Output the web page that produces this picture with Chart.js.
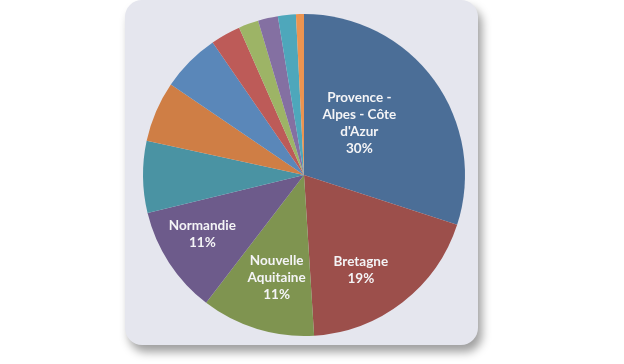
<!DOCTYPE html>
<html>
<head>
<meta charset="utf-8">
<script src="https://cdn.jsdelivr.net/npm/chart.js@4"></script>
<style>
  html, body { margin: 0; padding: 0; background: #fff; }
  #wrap { position: relative; width: 624px; height: 364px; overflow: hidden; }
  #panel {
    position: absolute; left: 125px; top: 0px; width: 353px; height: 345px;
    background: #e5e6ee; border-radius: 17px;
    box-shadow: 4px 7px 10px rgba(0, 0, 0, 0.38);
  }
  #chart { position: absolute; left: 0; top: 0; }
</style>
</head>
<body>
<div id="wrap">
  <div id="panel"></div>
  <canvas id="chart" width="624" height="364"></canvas>
</div>
<script>
// regions, share of total (%)
const regions = [
  ['Provence -', 'Alpes - Côte', "d'Azur"],
  'Bretagne',
  ['Nouvelle', 'Aquitaine'],
  'Normandie',
  'Occitanie',
  'Pays de la Loire',
  'Auvergne-Rhône-Alpes',
  'Hauts-de-France',
  'Grand Est',
  'Corse',
  'Centre-Val de Loire',
  'Bourgogne-Franche-Comté'
];
const shares = [30, 19, 11.4, 10.8, 7.2, 6.1, 5.9, 3.0, 2.0, 2.0, 1.8, 0.8];
const percentLabels = ['30%', '19%', '11%', '11%'];

const sliceColors = [
  '#4b6e97', '#9c4f4b', '#7f9450', '#6d5b8b', '#4a93a3', '#cf7e45',
  '#5a87b9', '#bd5b58', '#9db466', '#8470a2', '#4ea7bb', '#ec9450'
];

// where each labelled slice puts its text: fraction of radius, angle shift (deg)
const labelSpots = [
  { r: 0.47, shift: -7 },
  { r: 0.69, shift: 7 },
  { r: 0.66, shift: -2 },
  { r: 0.73, shift: 3 }
];

const sliceLabels = {
  id: 'sliceLabels',
  afterDatasetsDraw(chart) {
    const ctx = chart.ctx;
    const arcs = chart.getDatasetMeta(0).data;
    ctx.save();
    ctx.font = 'bold 13.5px Lato, "Open Sans", sans-serif';
    ctx.fillStyle = '#f4f4f6';
    ctx.textAlign = 'center';
    ctx.textBaseline = 'middle';
    percentLabels.forEach((pct, i) => {
      const a = arcs[i];
      const spot = labelSpots[i];
      const mid = (a.startAngle + a.endAngle) / 2 + spot.shift * Math.PI / 180;
      const rr = a.outerRadius * spot.r;
      const cx = a.x + Math.cos(mid) * rr;
      const cy = a.y + Math.sin(mid) * rr;
      const name = regions[i];
      const lines = (Array.isArray(name) ? name : [name]).concat(pct);
      const lh = 17;
      const top = cy - (lines.length - 1) * lh / 2;
      lines.forEach((t, k) => ctx.fillText(t, cx, top + k * lh));
    });
    ctx.restore();
  }
};

new Chart(document.getElementById('chart'), {
  type: 'pie',
  data: {
    labels: regions,
    datasets: [{
      data: shares,
      backgroundColor: sliceColors,
      borderWidth: 0
    }]
  },
  options: {
    responsive: false,
    animation: false,
    layout: { padding: { left: 0, right: 16, top: 14, bottom: 28 } },
    plugins: {
      legend: { display: false },
      tooltip: { enabled: false }
    }
  },
  plugins: [sliceLabels]
});
</script>
</body>
</html>
